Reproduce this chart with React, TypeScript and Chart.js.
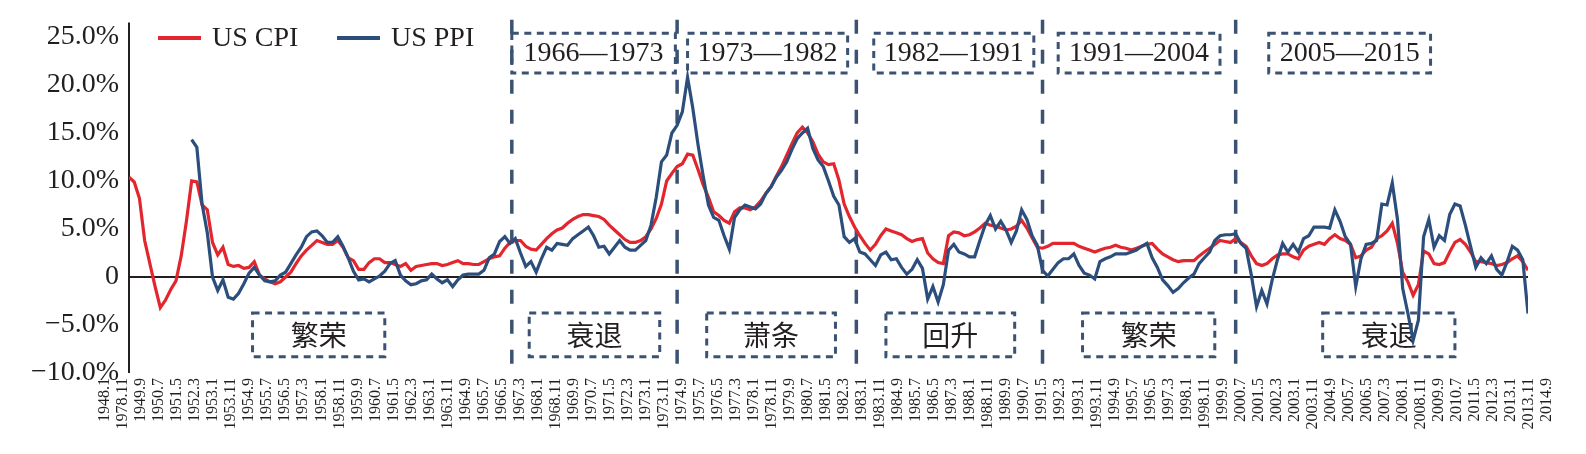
import React, { useEffect, useRef } from "react";
import { Chart, registerables } from "chart.js";

Chart.register(...registerables);

const SERIF = "'Liberation Serif', 'Times New Roman', serif";
const CJK = "'Noto Sans CJK SC', 'Noto Sans CJK JP', sans-serif";
const TEXT_COLOR = "#231F20";
const CPI_COLOR = "#E3262E";
const PPI_COLOR = "#2C4E7C";
const NOTE_COLOR = "#3B5272";

// Month offset counted from 1948.1
const toMonth = (d: string) => {
  const [y, m] = d.split(".").map(Number);
  return (y - 1948) * 12 + (m - 1);
};

const STEP_MONTHS = 3;
const CPI_FIRST = "1948.1";
const PPI_FIRST = "1951.1";

// US CPI, year-on-year %, quarterly readings (Jan/Apr/Jul/Oct)
const CPI_YOY = [
  10.4, 9.9, 8.2, 3.8, // 1948
  1.4, -1.0, -3.2, -2.4, // 1949
  -1.3, -0.4, 2.2, 5.8, // 1950
  10.0, 9.9, 7.5, 7.0, // 1951
  3.6, 2.3, 3.1, 1.3, // 1952
  1.1, 1.2, 0.9, 1.0, // 1953
  1.6, 0.2, -0.2, -0.5, // 1954
  -0.7, -0.5, 0.0, 0.5, // 1955
  1.4, 2.2, 2.8, 3.3, // 1956
  3.8, 3.6, 3.4, 3.4, // 1957
  3.8, 3.1, 2.0, 1.7, // 1958
  0.8, 0.8, 1.5, 1.9, // 1959
  1.9, 1.5, 1.5, 1.3, // 1960
  1.1, 1.4, 0.7, 1.1, // 1961
  1.2, 1.3, 1.4, 1.4, // 1962
  1.2, 1.3, 1.5, 1.7, // 1963
  1.4, 1.4, 1.3, 1.3, // 1964
  1.6, 1.9, 2.1, 2.2, // 1965
  3.0, 3.6, 3.8, 3.8, // 1966
  3.2, 2.9, 2.8, 3.4, // 1967
  4.0, 4.5, 4.9, 5.1, // 1968
  5.6, 6.0, 6.3, 6.5, // 1969
  6.5, 6.4, 6.3, 6.0, // 1970
  5.4, 4.9, 4.4, 3.9, // 1971
  3.6, 3.6, 3.8, 4.2, // 1972
  5.0, 6.1, 7.6, 10.0, // 1973
  10.8, 11.5, 11.8, 12.8, // 1974
  12.7, 11.2, 9.6, 8.3, // 1975
  6.8, 6.4, 5.9, 5.6, // 1976
  6.8, 7.2, 7.2, 7.0, // 1977
  7.3, 7.9, 8.7, 9.4, // 1978
  10.5, 11.5, 12.7, 13.9, // 1979
  15.0, 15.6, 15.0, 14.1, // 1980
  12.8, 12.0, 11.7, 11.8, // 1981
  10.1, 7.6, 6.3, 5.2, // 1982
  4.3, 3.5, 2.8, 3.4, // 1983
  4.3, 5.0, 4.8, 4.6, // 1984
  4.4, 4.0, 3.7, 3.9, // 1985
  4.0, 2.5, 1.9, 1.5, // 1986
  1.4, 4.3, 4.7, 4.6, // 1987
  4.3, 4.4, 4.7, 5.1, // 1988
  5.6, 5.4, 5.3, 5.1, // 1989
  4.9, 5.0, 5.3, 5.9, // 1990
  5.1, 4.1, 3.1, 3.0, // 1991
  3.2, 3.5, 3.5, 3.5, // 1992
  3.5, 3.5, 3.2, 3.0, // 1993
  2.8, 2.6, 2.8, 3.0, // 1994
  3.1, 3.3, 3.1, 3.0, // 1995
  2.8, 3.0, 3.2, 3.4, // 1996
  3.5, 2.9, 2.4, 2.1, // 1997
  1.8, 1.6, 1.7, 1.7, // 1998
  1.7, 2.2, 2.6, 3.0, // 1999
  3.4, 3.8, 3.7, 3.6, // 2000
  4.0, 3.6, 3.2, 2.2, // 2001
  1.4, 1.2, 1.4, 1.9, // 2002
  2.3, 2.4, 2.4, 2.1, // 2003
  1.9, 2.8, 3.2, 3.4, // 2004
  3.6, 3.4, 4.0, 4.4, // 2005
  4.0, 3.8, 3.4, 2.0, // 2006
  2.2, 2.8, 3.1, 4.0, // 2007
  4.3, 4.8, 5.6, 3.5, // 2008
  0.5, -0.5, -1.9, -0.8, // 2009
  2.7, 2.4, 1.4, 1.3, // 2010
  1.5, 2.6, 3.6, 3.9, // 2011
  3.4, 2.6, 1.6, 1.6, // 2012
  1.5, 1.4, 1.2, 1.3, // 2013
  1.5, 1.9, 2.2, 1.6, // 2014
  0.7, // 2015
];

// US PPI, year-on-year %, quarterly readings (Jan/Apr/Jul/Oct)
const PPI_YOY = [
  14.3, 13.5, 7.6, 4.6, // 1951
  0.0, -1.4, -0.3, -2.1, // 1952
  -2.3, -1.7, -0.7, 0.4, // 1953
  1.0, 0.2, -0.4, -0.5, // 1954
  -0.4, 0.2, 0.5, 1.4, // 1955
  2.3, 3.1, 4.2, 4.7, // 1956
  4.8, 4.3, 3.6, 3.6, // 1957
  4.2, 3.2, 2.0, 0.6, // 1958
  -0.3, -0.2, -0.5, -0.2, // 1959
  0.1, 0.6, 1.4, 1.7, // 1960
  0.2, -0.4, -0.8, -0.7, // 1961
  -0.4, -0.3, 0.3, -0.2, // 1962
  -0.6, -0.3, -1.0, -0.3, // 1963
  0.2, 0.3, 0.3, 0.3, // 1964
  0.7, 2.0, 2.4, 3.7, // 1965
  4.2, 3.5, 4.0, 2.5, // 1966
  1.1, 1.6, 0.5, 1.9, // 1967
  3.1, 2.8, 3.5, 3.4, // 1968
  3.3, 4.0, 4.4, 4.8, // 1969
  5.2, 4.3, 3.1, 3.2, // 1970
  2.4, 3.1, 3.8, 3.1, // 1971
  2.8, 2.8, 3.3, 3.8, // 1972
  5.4, 8.3, 12.0, 12.7, // 1973
  15.0, 15.8, 17.2, 20.8, // 1974
  17.6, 13.8, 10.5, 7.5, // 1975
  6.2, 5.9, 4.3, 2.9, // 1976
  6.2, 7.0, 7.5, 7.3, // 1977
  7.1, 7.6, 8.7, 9.4, // 1978
  10.4, 11.1, 12.0, 13.3, // 1979
  14.4, 15.0, 15.5, 13.4, // 1980
  12.2, 11.5, 10.0, 8.4, // 1981
  7.5, 4.2, 3.6, 4.0, // 1982
  2.6, 2.4, 1.8, 1.2, // 1983
  2.3, 2.6, 1.8, 1.9, // 1984
  1.0, 0.3, 0.8, 1.8, // 1985
  0.9, -2.3, -1.0, -2.6, // 1986
  -0.8, 2.8, 3.4, 2.6, // 1987
  2.4, 2.1, 2.1, 3.8, // 1988
  5.4, 6.4, 5.0, 5.8, // 1989
  4.9, 3.6, 4.8, 7.0, // 1990
  6.0, 4.3, 3.3, 0.7, // 1991
  0.1, 0.8, 1.5, 1.9, // 1992
  1.9, 2.4, 1.2, 0.4, // 1993
  0.2, -0.2, 1.6, 1.9, // 1994
  2.1, 2.4, 2.4, 2.4, // 1995
  2.6, 2.8, 3.2, 3.5, // 1996
  2.0, 1.0, -0.3, -0.9, // 1997
  -1.6, -1.2, -0.6, -0.1, // 1998
  0.3, 1.4, 2.0, 2.6, // 1999
  3.8, 4.3, 4.4, 4.4, // 2000
  4.5, 3.5, 3.0, 0.2, // 2001
  -3.1, -1.4, -2.8, -0.3, // 2002
  1.8, 3.5, 2.6, 3.4, // 2003
  2.6, 4.0, 4.3, 5.2, // 2004
  5.2, 5.2, 5.1, 7.0, // 2005
  5.8, 4.2, 3.4, -1.0, // 2006
  1.9, 3.4, 3.5, 3.8, // 2007
  7.6, 7.5, 9.8, 6.0, // 2008
  -1.2, -3.8, -6.6, -4.5, // 2009
  4.2, 6.0, 3.1, 4.3, // 2010
  3.8, 6.5, 7.6, 7.4, // 2011
  5.4, 3.2, 1.0, 2.0, // 2012
  1.4, 2.2, 0.8, 0.2, // 2013
  1.6, 3.2, 2.8, 1.8, // 2014
  -3.8, // 2015
];

// Axis tick labels, one every ten months
const X_TICK_LABELS = [
  "1948.1", "1978.11", "1949.9", "1950.7", "1951.5", "1952.3", "1953.1", "1953.11", "1954.9", "1955.7",
  "1956.5", "1957.3", "1958.1", "1958.11", "1959.9", "1960.7", "1961.5", "1962.3", "1963.1", "1963.11",
  "1964.9", "1965.7", "1966.5", "1967.3", "1968.1", "1968.11", "1969.9", "1970.7", "1971.5", "1972.3",
  "1973.1", "1973.11", "1974.9", "1975.7", "1976.5", "1977.3", "1978.1", "1978.11", "1979.9", "1980.7",
  "1981.5", "1982.3", "1983.1", "1983.11", "1984.9", "1985.7", "1986.5", "1987.3", "1988.1", "1988.11",
  "1989.9", "1990.7", "1991.5", "1992.3", "1993.1", "1993.11", "1994.9", "1995.7", "1996.5", "1997.3",
  "1998.1", "1998.11", "1999.9", "2000.7", "2001.5", "2002.3", "2003.1", "2003.11", "2004.9", "2005.7",
  "2006.5", "2007.3", "2008.1", "2008.11", "2009.9", "2010.7", "2011.5", "2012.3", "2013.1", "2013.11",
  "2014.9",
];
const Y_TICKS = [25, 20, 15, 10, 5, 0, -5, -10];

// Cycle boundaries and their labels
const PHASE_BOUNDARIES = ["1966.5", "1974.4", "1982.11", "1991.10", "2001.1"];
const PERIOD_BOXES = [
  { from: "1966.5", to: "1974.3", text: "1966—1973" },
  { from: "1974.10", to: "1982.6", text: "1973—1982" },
  { from: "1983.9", to: "1991.5", text: "1982—1991" },
  { from: "1992.7", to: "2000.4", text: "1991—2004" },
  { from: "2002.8", to: "2010.5", text: "2005—2015" },
];
const PHASE_BOXES = [
  { from: "1953.12", to: "1960.4", text: "繁荣" },
  { from: "1967.3", to: "1973.6", text: "衰退" },
  { from: "1975.9", to: "1981.11", text: "萧条" },
  { from: "1984.4", to: "1990.6", text: "回升" },
  { from: "1993.9", to: "2000.1", text: "繁荣" },
  { from: "2005.3", to: "2011.7", text: "衰退" },
];

const toPoints = (values: number[], first: string) =>
  values.map((v, i) => ({ x: toMonth(first) + i * STEP_MONTHS, y: v }));

const LAST_MONTH = toMonth(CPI_FIRST) + (CPI_YOY.length - 1) * STEP_MONTHS;

const fmtPct = (v: number) =>
  v === 0 ? "0" : (v < 0 ? "\u2212" : "") + Math.abs(v).toFixed(1) + "%";

const annotationPlugin = {
  id: "cycleNotes",
  beforeDatasetsDraw(chart: any) {
    const { ctx } = chart;
    const xs = chart.scales.xd;
    const ys = chart.scales.y;
    ctx.save();

    // zero line and value axis
    ctx.setLineDash([]);
    ctx.strokeStyle = TEXT_COLOR;
    ctx.lineWidth = 2;
    const y0 = ys.getPixelForValue(0);
    const xa = xs.getPixelForValue(toMonth(CPI_FIRST));
    ctx.beginPath();
    ctx.moveTo(xa, y0);
    ctx.lineTo(xs.getPixelForValue(LAST_MONTH), y0);
    ctx.stroke();
    ctx.beginPath();
    ctx.moveTo(xa, ys.getPixelForValue(ys.max));
    ctx.lineTo(xa, ys.getPixelForValue(ys.min));
    ctx.stroke();

    // cycle boundaries
    ctx.strokeStyle = NOTE_COLOR;
    ctx.lineWidth = 3.5;
    ctx.setLineDash([14, 16]);
    for (const d of PHASE_BOUNDARIES) {
      const x = xs.getPixelForValue(toMonth(d));
      ctx.beginPath();
      ctx.moveTo(x, ys.getPixelForValue(26.8));
      ctx.lineTo(x, ys.getPixelForValue(-10));
      ctx.stroke();
    }

    const drawBox = (from: string, to: string, top: number, bottom: number, text: string, font: string) => {
      const x1 = xs.getPixelForValue(toMonth(from));
      const x2 = xs.getPixelForValue(toMonth(to));
      const y1 = ys.getPixelForValue(top);
      const y2 = ys.getPixelForValue(bottom);
      ctx.strokeStyle = NOTE_COLOR;
      ctx.lineWidth = 3;
      ctx.setLineDash([7, 5.5]);
      ctx.strokeRect(x1, y1, x2 - x1, y2 - y1);
      ctx.setLineDash([]);
      ctx.fillStyle = TEXT_COLOR;
      ctx.font = font;
      ctx.textAlign = "center";
      ctx.textBaseline = "middle";
      ctx.fillText(text, (x1 + x2) / 2, (y1 + y2) / 2 + 1);
    };
    for (const b of PERIOD_BOXES) drawBox(b.from, b.to, 25.4, 21.25, b.text, `28px ${SERIF}`);
    for (const b of PHASE_BOXES) drawBox(b.from, b.to, -3.75, -8.3, b.text, `28px ${CJK}`);
    ctx.restore();
  },
  afterDraw(chart: any) {
    const { ctx } = chart;
    ctx.save();
    ctx.font = `28px ${SERIF}`;
    ctx.textAlign = "left";
    ctx.textBaseline = "alphabetic";
    let x = 158;
    chart.data.datasets.forEach((ds: any) => {
      ctx.strokeStyle = ds.borderColor;
      ctx.lineWidth = 4;
      ctx.setLineDash([]);
      ctx.beginPath();
      ctx.moveTo(x, 38);
      ctx.lineTo(x + 43, 38);
      ctx.stroke();
      ctx.fillStyle = TEXT_COLOR;
      ctx.fillText(ds.label, x + 54, 46);
      x += 179;
    });
    ctx.restore();
  },
};

export default function App() {
  const canvasRef = useRef<HTMLCanvasElement | null>(null);

  useEffect(() => {
    document.body.style.margin = "0";
    const canvas = canvasRef.current;
    if (!canvas) return;
    const chart = new Chart(canvas, {
      type: "line",
      data: {
        datasets: [
          {
            label: "US CPI",
            data: toPoints(CPI_YOY, CPI_FIRST),
            borderColor: CPI_COLOR,
            backgroundColor: CPI_COLOR,
            borderWidth: 3.2,
            pointRadius: 0,
            tension: 0,
            xAxisID: "xd",
            order: 1,
          },
          {
            label: "US PPI",
            data: toPoints(PPI_YOY, PPI_FIRST),
            borderColor: PPI_COLOR,
            backgroundColor: PPI_COLOR,
            borderWidth: 3.2,
            pointRadius: 0,
            tension: 0,
            xAxisID: "xd",
            order: 0,
          },
        ],
      },
      options: {
        responsive: false,
        animation: false,
        devicePixelRatio: 1,
        layout: { padding: { top: 22.6, right: 58, bottom: 0, left: 0 } },
        plugins: { legend: { display: false }, tooltip: { enabled: false } },
        scales: {
          // date labels, spread slightly wider than the plotted months
          x: {
            type: "linear",
            position: "bottom",
            min: 13.3,
            max: 789.5,
            afterBuildTicks: (s: any) => {
              s.ticks = X_TICK_LABELS.map((_, i) => ({ value: i * 10 }));
            },
            afterFit: (s: any) => {
              s.height = 81;
              s.paddingLeft = 0;
              s.paddingRight = 0;
            },
            grid: { display: false, drawTicks: false },
            border: { display: false },
            ticks: {
              autoSkip: false,
              maxRotation: 90,
              minRotation: 90,
              padding: 5,
              color: TEXT_COLOR,
              font: { family: SERIF, size: 16 },
              callback: (_v: any, i: number) => X_TICK_LABELS[i],
            },
          },
          // month offsets of the plotted series
          xd: {
            type: "linear",
            display: false,
            min: toMonth(CPI_FIRST),
            max: LAST_MONTH,
          },
          y: {
            min: -10,
            max: 26.5,
            afterBuildTicks: (s: any) => {
              s.ticks = Y_TICKS.map((v) => ({ value: v }));
            },
            afterFit: (s: any) => {
              s.width = 129;
              s.paddingTop = 0;
              s.paddingBottom = 0;
            },
            grid: { display: false, drawTicks: false },
            border: { display: false },
            ticks: {
              autoSkip: false,
              padding: 10,
              color: TEXT_COLOR,
              font: { family: SERIF, size: 28 },
              callback: (v: any) => fmtPct(Number(v)),
            },
          },
        },
      },
      plugins: [annotationPlugin],
    });
    return () => chart.destroy();
  }, []);

  return (
    <div style={{ width: 1586, height: 454, background: "#fff" }}>
      <canvas ref={canvasRef} width={1586} height={454} style={{ display: "block" }} />
    </div>
  );
}
